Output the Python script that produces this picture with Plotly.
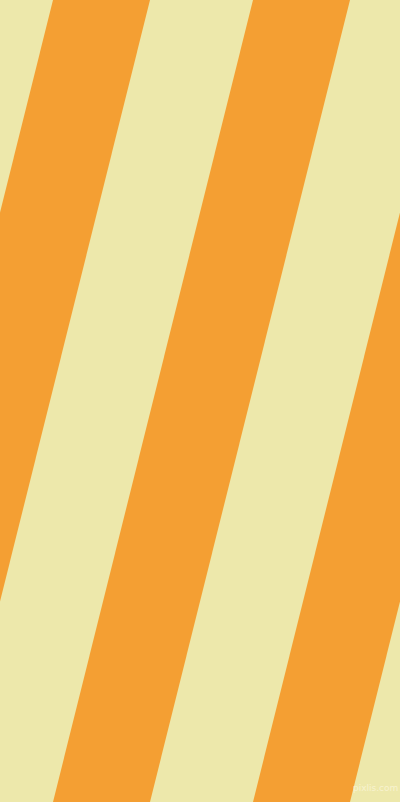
import plotly.graph_objects as go

# canvas size
W, H = 400, 802

# colours
orange = '#F49F33'
cream = '#EDE8AB'

# orange band edges where they meet the top edge (x at y=0)
band_left_top = [-147, 53, 253, 453]
band_right_top = [-50, 150, 350, 550]
# how far each edge drifts left between top and bottom
drift = 200

fig = go.Figure()
for xl, xr in zip(band_left_top, band_right_top):
    fig.add_trace(go.Scatter(
        x=[xl, xr, xr - drift, xl - drift, xl],
        y=[0, 0, H, H, 0],
        mode='lines', fill='toself',
        fillcolor=orange, line=dict(width=0, color=orange),
        hoverinfo='skip', showlegend=False,
    ))

fig.add_annotation(
    x=375, y=788, text='pixlis.com', showarrow=False,
    font=dict(family='DejaVu Sans', size=9, color='#F8F3CF'),
)

fig.update_xaxes(range=[0, W], visible=False, fixedrange=True)
fig.update_yaxes(range=[H, 0], visible=False, fixedrange=True)
fig.update_layout(
    width=W, height=H,
    margin=dict(l=0, r=0, t=0, b=0),
    paper_bgcolor=cream, plot_bgcolor=cream,
)

# the page's default body margin would frame the chart in white
fig.write_html('out.html', config={'displayModeBar': False},
               post_script="document.body.style.margin='0';"
                           "document.body.style.overflow='hidden';")
